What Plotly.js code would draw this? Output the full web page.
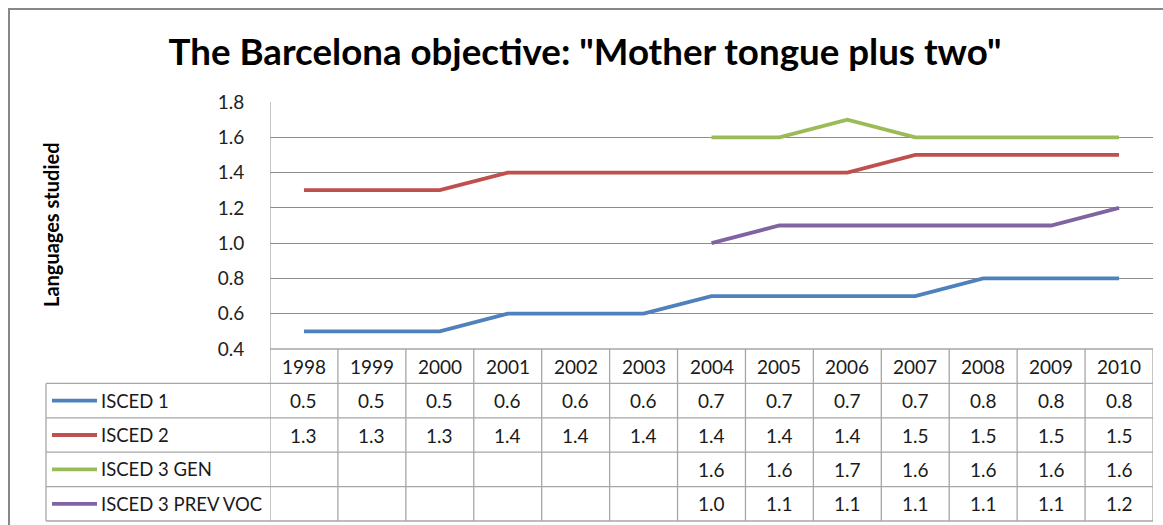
<!DOCTYPE html>
<html>
<head>
<meta charset="utf-8">
<script src="https://cdn.plot.ly/plotly-3.0.1.min.js"></script>
<style>html,body{margin:0;padding:0;background:#fff;}#chart{width:1163px;height:525px;}</style>
</head>
<body>
<div id="chart"></div>
<script>
// ---- data ----
const years = ["1998","1999","2000","2001","2002","2003","2004","2005","2006","2007","2008","2009","2010"];
const seriesNames = ["ISCED 1","ISCED 2","ISCED 3 GEN","ISCED 3 PREV VOC"];
const isced1 = [0.5,0.5,0.5,0.6,0.6,0.6,0.7,0.7,0.7,0.7,0.8,0.8,0.8];
const isced2 = [1.3,1.3,1.3,1.4,1.4,1.4,1.4,1.4,1.4,1.5,1.5,1.5,1.5];
const isced3Gen = [null,null,null,null,null,null,1.6,1.6,1.7,1.6,1.6,1.6,1.6];
const isced3PrevVoc = [null,null,null,null,null,null,1.0,1.1,1.1,1.1,1.1,1.1,1.2];
const yTicks = [0.4,0.6,0.8,1.0,1.2,1.4,1.6,1.8];
const titleText = 'The Barcelona objective: "Mother tongue plus two"';
const yTitle = 'Languages studied';

// ---- styling / layout ----
const colors = ["#4F81BD","#C0504D","#9BBB59","#8064A2"];
const allSeries = [isced1, isced2, isced3Gen, isced3PrevVoc];
const FONT = "Lato, 'Open Sans', sans-serif";
const W = 1163, H = 525;
const L = 270, R = 1153, T = 102, B = 349;
const pw = R - L, ph = B - T;
const px = x => (x - L) / pw;
const py = y => (B - y) / ph;
const tableLeft = 46;
const rowH = 34.4;
const rowTops = [B, B + rowH, B + 2*rowH, B + 3*rowH, B + 4*rowH, B + 5*rowH];
const gridCol = "#8C8C8C", tabCol = "#A6A6A6";
const cellFont = {family: FONT, size: 19, color: "#1a1a1a"};
const labelFont = {family: FONT, size: 18.5, color: "#1a1a1a"};

const traces = allSeries.map((vals, i) => ({
  type: "scatter", mode: "lines", x: years.map((_, j) => j), y: vals, name: seriesNames[i],
  line: {color: colors[i], width: 3.8}, connectgaps: false, hoverinfo: "y+name"
}));

const shapes = [];
const annotations = [];
// outer chart border
shapes.push({type:"rect", xref:"paper", yref:"paper", x0:px(9), x1:px(1175), y0:py(9), y1:py(540),
  line:{color:"#878787", width:2}, fillcolor:"rgba(0,0,0,0)", layer:"below"});
// table horizontal lines
shapes.push({type:"line", xref:"paper", yref:"paper", x0:px(L), x1:px(R), y0:py(rowTops[0]), y1:py(rowTops[0]), line:{color:tabCol, width:1.3}});
for (let r = 1; r <= 5; r++) {
  shapes.push({type:"line", xref:"paper", yref:"paper", x0:px(tableLeft), x1:px(R), y0:py(rowTops[r]), y1:py(rowTops[r]), line:{color:tabCol, width:1.3}});
}
// table left border
shapes.push({type:"line", xref:"paper", yref:"paper", x0:px(tableLeft), x1:px(tableLeft), y0:py(rowTops[1]), y1:py(rowTops[5]), line:{color:tabCol, width:1.3}});
// vertical lines at category boundaries
for (let k = 0; k <= years.length; k++) {
  shapes.push({type:"line", xref:"x", yref:"paper", x0:k-0.5, x1:k-0.5,
    y0: k === 0 ? 1 : py(rowTops[0]), y1: py(rowTops[5]), line:{color:tabCol, width:1.3}});
}
// header years
years.forEach((yr, j) => {
  annotations.push({xref:"x", yref:"paper", x:j, y:py((rowTops[0]+rowTops[1])/2), text:yr, showarrow:false,
    font:cellFont, xanchor:"center", yanchor:"middle"});
});
// rows: legend keys, labels, values
allSeries.forEach((vals, i) => {
  const yc = (rowTops[i+1] + rowTops[i+2]) / 2;
  shapes.push({type:"line", xref:"paper", yref:"paper", x0:px(52), x1:px(97), y0:py(yc), y1:py(yc), line:{color:colors[i], width:3.8}});
  annotations.push({xref:"paper", yref:"paper", x:px(99), y:py(yc), text:seriesNames[i], showarrow:false,
    font:labelFont, xanchor:"left", yanchor:"middle"});
  vals.forEach((v, j) => {
    if (v === null) return;
    annotations.push({xref:"x", yref:"paper", x:j, y:py(yc), text:v.toFixed(1), showarrow:false,
      font:cellFont, xanchor:"center", yanchor:"middle"});
  });
});
// y axis title
annotations.push({xref:"paper", yref:"paper", x:px(51), y:py(225), text:"<b>"+yTitle+"</b>", showarrow:false, textangle:-90,
  font:{family:FONT, size:20, color:"#000"}, xanchor:"center", yanchor:"middle"});

const layout = {
  width: W, height: H,
  margin: {l: L, r: W - R, t: T, b: H - B, pad: 0},
  paper_bgcolor: "#fff", plot_bgcolor: "#fff",
  showlegend: false,
  title: {text: "<b>" + titleText + "</b>", x: 585/W, xref: "container", xanchor: "center", y: 1 - 52/H, yref: "container", yanchor: "middle",
    font: {family: FONT, size: 36.7, color: "#000"}},
  xaxis: {range: [-0.5, 12.5], showticklabels: false, ticks: "", showgrid: false, zeroline: false,
    showline: false, fixedrange: true},
  yaxis: {range: [0.4, 1.8], tickvals: yTicks, ticktext: yTicks.map(v => v.toFixed(1)), showgrid: true, gridcolor: gridCol, gridwidth: 1.2,
    zeroline: false, showline: false, ticks: "outside", ticklen: 21, tickcolor: "rgba(0,0,0,0)",
    tickfont: {family: FONT, size: 19, color: "#222"}, fixedrange: true},
  shapes: shapes,
  annotations: annotations
};

Plotly.newPlot("chart", traces, layout, {displayModeBar: false, staticPlot: true});
</script>
</body>
</html>
